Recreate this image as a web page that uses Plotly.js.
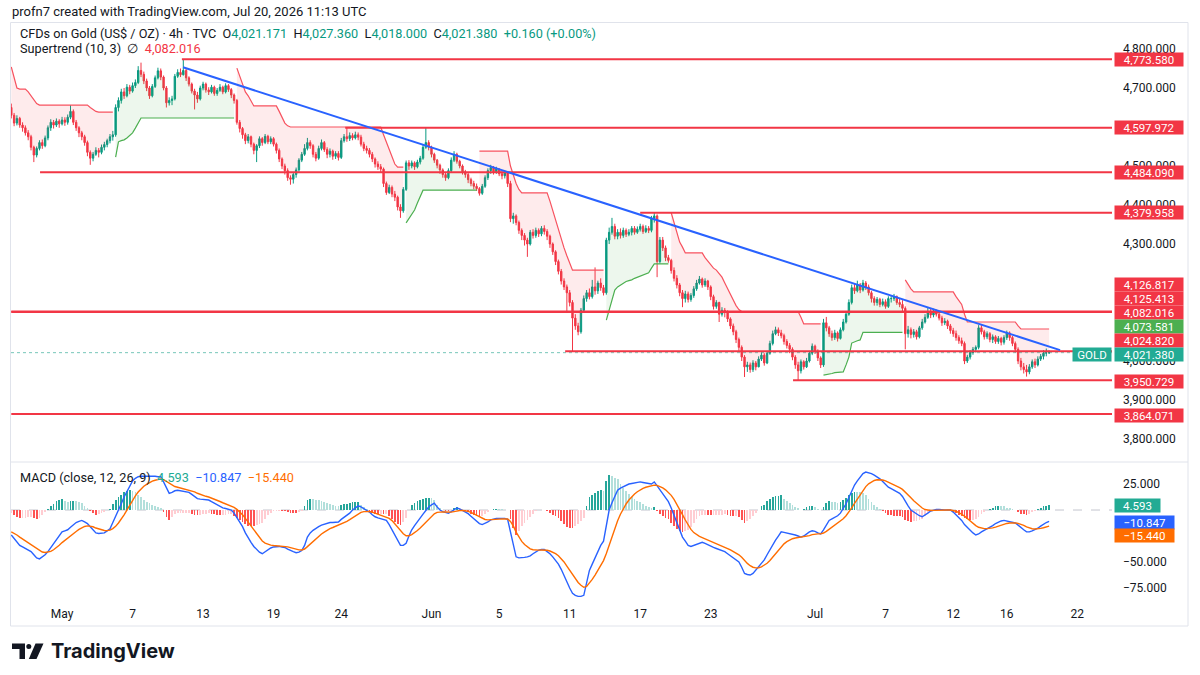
<!DOCTYPE html>
<html>
<head>
<meta charset="utf-8">
<script src="https://cdn.plot.ly/plotly-3.0.1.min.js"></script>
<style>
  html, body { margin: 0; padding: 0; background: #ffffff; }
  #chart { width: 1200px; height: 675px; }
</style>
</head>
<body>
<div id="chart"></div>
<script>
// ---------- 4h bars of TVC:GOLD, Apr 28 – Jul 20, 2026 (index = bar number) ----------
const dayTicks  = [18, 43, 68, 93, 117, 149, 173, 198, 223, 248, 285, 310, 334, 353, 378];
const dayLabels = ['May', '7', '13', '19', '24', 'Jun', '5', '11', '17', '23', 'Jul', '7', '12', '16', '22'];

const firstOpen = 4650;
const lastChange = 0.160;

const close = [
  4630,4610,4622,4605,4598,4585,4575,4548,4528,4545,
  4560,4552,4572,4598,4612,4605,4615,4608,4618,4612,
  4625,4640,4612,4598,4585,4575,4560,4535,4520,4530,
  4540,4535,4548,4555,4565,4575,4580,4650,4668,4690,
  4680,4702,4692,4706,4714,4745,4735,4718,4700,4680,
  4704,4726,4744,4728,4700,4662,4668,4672,4730,4740,
  4734,4745,4726,4710,4692,4682,4672,4700,4710,4695,
  4690,4702,4686,4694,4702,4690,4706,4696,4682,4668,
  4612,4596,4580,4565,4575,4556,4540,4552,4570,4560,
  4576,4562,4570,4556,4540,4518,4500,4488,4470,4466,
  4478,4490,4515,4530,4545,4560,4552,4530,4520,4545,
  4560,4542,4530,4538,4525,4532,4522,4565,4575,4570,
  4578,4572,4580,4574,4556,4545,4540,4530,4518,4505,
  4498,4492,4455,4432,4445,4428,4420,4395,4385,4440,
  4508,4500,4508,4498,4510,4520,4548,4560,4548,4530,
  4515,4502,4490,4478,4470,4488,4515,4530,4512,4500,
  4485,4478,4465,4455,4448,4442,4430,4448,4470,4488,
  4496,4485,4492,4480,4475,4482,4455,4365,4372,4355,
  4335,4322,4310,4300,4330,4322,4335,4326,4340,4332,
  4320,4300,4280,4255,4230,4205,4190,4175,4150,4110,
  4090,4075,4130,4160,4175,4165,4190,4180,4200,4188,
  4175,4310,4330,4345,4320,4330,4322,4335,4325,4330,
  4340,4330,4338,4345,4332,4340,4335,4365,4372,4255,
  4310,4290,4265,4258,4232,4212,4195,4175,4160,4172,
  4158,4168,4185,4200,4210,4195,4205,4190,4165,4140,
  4150,4120,4130,4125,4108,4090,4075,4055,4035,4010,
  3985,3990,3978,3995,3985,4005,4015,3995,4020,4045,
  4070,4080,4072,4065,4050,4040,4030,4010,3990,3975,
  3998,3985,4000,4020,4038,4025,4008,3990,4098,4085,
  4070,4060,4072,4058,4080,4100,4120,4150,4188,4180,
  4195,4182,4200,4190,4175,4160,4150,4158,4145,4152,
  4140,4160,4160,4165,4150,4145,4135,4070,4080,4068,
  4075,4062,4085,4100,4112,4125,4118,4128,4120,4110,
  4098,4102,4090,4078,4070,4060,4052,4045,4000,4010,
  4022,4030,4035,4085,4075,4062,4070,4055,4062,4050,
  4058,4048,4060,4072,4060,4045,4030,4000,3985,3978,
  3972,3985,3998,3990,4005,4012,4020,4021.171,4021.38
];

const high = [
  4660,4636,4630,4626,4612,4604,4592,4580,4552,4550,
  4566,4568,4578,4604,4620,4618,4622,4620,4626,4625,
  4632,4656,4645,4618,4602,4590,4580,4565,4540,4536,
  4548,4546,4555,4562,4570,4582,4590,4658,4676,4698,
  4700,4710,4708,4714,4722,4756,4765,4742,4724,4705,
  4710,4732,4752,4750,4732,4705,4676,4680,4736,4748,
  4750,4773.58,4750,4730,4714,4698,4690,4706,4716,4714,
  4702,4708,4706,4700,4710,4706,4712,4710,4700,4686,
  4672,4618,4600,4585,4582,4578,4560,4556,4576,4574,
  4582,4580,4576,4574,4560,4545,4522,4506,4494,4476,
  4484,4496,4520,4536,4556,4572,4566,4556,4536,4552,
  4568,4564,4548,4545,4542,4538,4538,4572,4582,4597.972,
  4586,4584,4588,4586,4580,4562,4552,4546,4536,4522,
  4512,4505,4496,4460,4452,4450,4436,4424,4402,4446,
  4514,4515,4514,4512,4516,4526,4556,4598,4566,4552,
  4534,4518,4506,4494,4482,4494,4522,4538,4534,4516,
  4504,4490,4482,4470,4462,4455,4446,4454,4476,4494,
  4503,4500,4498,4494,4486,4488,4486,4462,4380,4376,
  4360,4340,4328,4316,4336,4338,4342,4340,4346,4348,
  4338,4324,4304,4284,4260,4236,4212,4196,4182,4156,
  4120,4098,4136,4168,4182,4186,4208,4240,4206,4212,
  4195,4316,4342,4367,4352,4338,4340,4342,4340,4338,
  4346,4346,4345,4352,4350,4348,4346,4372,4379.958,4376,
  4318,4318,4296,4272,4262,4240,4220,4200,4182,4180,
  4178,4174,4192,4208,4218,4214,4212,4208,4194,4170,
  4156,4152,4138,4136,4130,4112,4096,4080,4060,4040,
  4015,3998,3996,4002,4000,4012,4022,4020,4026,4052,
  4078,4088,4086,4080,4070,4056,4046,4035,4015,3998,
  4004,4002,4008,4026,4045,4042,4030,4012,4108,4113,
  4090,4078,4080,4076,4086,4108,4128,4158,4196,4200,
  4206,4200,4208,4205,4196,4180,4166,4164,4162,4160,
  4158,4166,4168,4172,4168,4160,4156,4140,4090,4086,
  4082,4080,4090,4108,4120,4138,4136,4134,4132,4126,
  4116,4110,4106,4095,4085,4078,4066,4060,4050,4016,
  4028,4036,4040,4092,4094,4080,4076,4074,4068,4066,
  4064,4062,4066,4078,4076,4064,4050,4035,4008,3995,
  3990,3992,4004,4006,4012,4018,4028,4032,4027.36
];

const low = [
  4622,4602,4604,4598,4588,4578,4566,4540,4510,4522,
  4540,4544,4548,4566,4590,4596,4600,4598,4604,4603,
  4606,4620,4605,4590,4574,4566,4552,4525,4503,4512,
  4526,4522,4530,4540,4548,4558,4565,4575,4640,4660,
  4672,4676,4684,4688,4700,4710,4728,4710,4692,4672,
  4676,4700,4722,4720,4694,4650,4655,4656,4668,4726,
  4728,4732,4718,4704,4686,4645,4662,4668,4694,4688,
  4682,4686,4680,4680,4690,4684,4686,4690,4674,4660,
  4606,4586,4570,4556,4558,4548,4530,4510,4546,4552,
  4556,4556,4556,4550,4532,4510,4492,4478,4462,4452,
  4455,4470,4485,4510,4526,4540,4544,4522,4512,4516,
  4540,4536,4520,4522,4516,4518,4514,4518,4560,4562,
  4564,4566,4568,4566,4550,4538,4532,4522,4510,4496,
  4490,4484,4446,4426,4428,4420,4410,4386,4367,4380,
  4436,4490,4494,4490,4494,4504,4516,4544,4540,4522,
  4508,4494,4480,4470,4462,4466,4484,4510,4506,4494,
  4478,4470,4456,4448,4440,4436,4424,4426,4444,4464,
  4480,4478,4480,4474,4466,4468,4446,4356,4352,4348,
  4326,4310,4296,4267,4296,4314,4316,4318,4320,4324,
  4310,4290,4272,4246,4222,4196,4182,4123,4140,4024.82,
  4080,4066,4070,4124,4152,4158,4160,4170,4172,4180,
  4168,4170,4300,4324,4312,4312,4314,4316,4318,4320,
  4322,4324,4326,4332,4326,4328,4328,4330,4355,4215,
  4250,4282,4256,4252,4224,4204,4186,4166,4138,4150,
  4150,4152,4162,4180,4196,4188,4190,4182,4156,4132,
  4134,4100,4114,4112,4100,4082,4066,4046,4026,4000,
  3959,3972,3970,3972,3976,3984,4000,3988,3992,4016,
  4040,4066,4064,4058,4042,4032,4020,4002,3980,3950.729,
  3968,3978,3982,3996,4015,4018,4000,3982,3985,4076,
  4062,4052,4054,4050,4055,4076,4096,4116,4145,4172,
  4176,4174,4178,4182,4168,4150,4142,4142,4138,4140,
  4134,4136,4150,4154,4144,4138,4128,4030,4060,4058,
  4060,4055,4058,4080,4096,4108,4110,4112,4114,4104,
  4090,4092,4082,4070,4062,4052,4044,4038,3992,3995,
  4004,4016,4022,4030,4068,4055,4056,4048,4046,4044,
  4044,4040,4042,4054,4052,4038,4022,3992,3976,3968,
  3960,3966,3980,3982,3986,4000,4004,4012,4018
];

// Supertrend (10, 3) per bar
const supertrend = [
  4754,4725,4700,4697,4697,4697,4690,4680,4670,4660,
  4656,4656,4656,4656,4656,4656,4656,4656,4656,4656,
  4656,4656,4656,4656,4656,4656,4656,4656,4650,4645,
  4640,4638,4638,4638,4638,4638,4638,4523,4562,4565,
  4567,4572,4578,4585,4597,4610,4623,4623,4623,4623,
  4623,4623,4623,4623,4623,4623,4623,4623,4623,4623,
  4623,4623,4623,4623,4623,4623,4623,4623,4623,4623,
  4623,4623,4623,4623,4623,4623,4623,4623,4623,4623,
  4751,4730,4710,4690,4680,4665,4654,4654,4654,4654,
  4654,4654,4654,4654,4654,4640,4625,4610,4603,4600,
  4600,4600,4600,4600,4600,4600,4600,4600,4600,4600,
  4600,4600,4600,4600,4600,4600,4600,4600,4600,4600,
  4600,4600,4600,4600,4600,4600,4600,4600,4600,4600,
  4600,4600,4580,4560,4540,4520,4505,4497,4497,4497,
  4354,4365,4375,4387,4405,4420,4438,4438,4438,4438,
  4438,4438,4438,4438,4438,4438,4438,4438,4438,4438,
  4438,4438,4438,4438,4438,4438,4538,4538,4538,4538,
  4538,4538,4538,4538,4538,4538,4538,4500,4475,4455,
  4440,4431,4431,4431,4431,4431,4431,4431,4431,4431,
  4431,4410,4385,4360,4335,4310,4290,4270,4250,4233,
  4233,4233,4233,4233,4233,4233,4233,4233,4233,4233,
  4233,4105,4130,4160,4182,4190,4195,4200,4204,4206,
  4208,4212,4215,4218,4221,4224,4226,4238,4249,4249,
  4249,4249,4249,4249,4380,4355,4330,4305,4292,4277,
  4277,4277,4277,4277,4277,4277,4265,4255,4245,4238,
  4233,4225,4215,4200,4185,4170,4155,4142,4132,4126.817,
  4126.817,4126.817,4126.817,4126.817,4126.817,4126.817,4126.817,4126.817,4126.817,4126.817,
  4126.817,4126.817,4126.817,4126.817,4126.817,4126.817,4126.817,4126.817,4126.817,4126.817,
  4112,4095,4095,4095,4095,4095,4095,4095,3964,3965,
  3966,3968,3970,3971,3972,3972,3990,4010,4046,4050,
  4052,4054,4073.581,4073.581,4073.581,4073.581,4073.581,4073.581,4073.581,4073.581,
  4073.581,4073.581,4073.581,4073.581,4073.581,4073.581,4073.581,4208,4195,4185,
  4177,4177,4177,4177,4177,4177,4177,4177,4177,4177,
  4177,4177,4177,4177,4177,4165,4155,4145,4120,4100,
  4100,4100,4100,4100,4100,4100,4100,4100,4100,4100,
  4100,4100,4100,4100,4100,4100,4100,4090,4082.016,4082.016,
  4082.016,4082.016,4082.016,4082.016,4082.016,4082.016,4082.016,4082.016,4082.016
];

// MACD (close, 12, 26, 9): MACD line and signal line per bar
const macdLine = [
  -24,-27.5,-31,-34,-35.5,-37,-38.5,-40,-43,-46,
  -47,-45,-43,-40,-36,-32,-28,-24.5,-21,-20,
  -19,-16.5,-14,-12,-11,-10,-11.5,-13,-16,-19,
  -22,-22.5,-22.5,-22,-20,-18,-12,-6.5,0,6,
  12.5,18,24,28,30.5,32,32.5,32.5,32.5,33,
  33,32.5,32,32,27,21,16,17,18.5,19,
  18.5,18,17.5,17,15,13,11,10.5,10,9.8,
  9.6,8,6.5,5,3,2,1.5,1,0,-3,
  -7,-11,-16,-22,-27,-31,-35,-38,-40.5,-42,
  -40,-38,-36.5,-35.5,-35,-35,-35.5,-36,-37.5,-39,
  -40,-41,-40.5,-39,-34,-26,-22,-19.5,-17.5,-16,
  -14.5,-13.5,-12.5,-12,-12,-11.5,-11.5,-9,-7,-5,
  -3,0,2,4,3,1.5,0,-2,-4.5,-6.5,
  -7.5,-8.5,-9.5,-10,-14,-19,-25,-30,-34,-34,
  -32,-25,-19,-15,-11,-8,-4,-0.5,3,5,
  6.5,3,0,-1.5,-2.5,-3,-1.5,0.5,2,1,
  -0.5,-2,-3.5,-6,-8.5,-11,-13,-14,-13,-11.5,
  -9.5,-8.5,-8,-8,-8,-8,-9,-20,-33,-45,
  -46,-46,-45.5,-45,-44,-42,-40,-38.5,-38,-38,
  -40,-42,-45,-48,-52,-57,-63,-70,-75,-80,
  -82,-83,-83,-82,-70,-58,-52,-46,-40,-34,
  -30,-14,0,7,13,19,21,22.5,24,25,
  25.5,26,26.5,27,26.5,26,25.5,25,27,23,
  19,15,12,8,2,-5,-12,-19,-26,-30,
  -34,-35,-34,-32.5,-31.5,-31,-32,-33.5,-35,-36,
  -37,-38,-39,-40,-42,-44,-46,-47.5,-50,-55,
  -61,-62,-62.5,-61,-58,-55,-51,-48,-43,-38,
  -33,-29,-25,-21,-21.5,-22,-22.5,-23,-24,-25,
  -26,-25,-23,-21,-20,-20.5,-22,-23,-19,-14,
  -10,-8.5,-7,-5.5,-3,1,6,12,18,24,
  28,32,35,36.5,36,35,33.5,32,30,27.5,
  25,22,20.5,19,17.5,16,13,8,4,0,
  -2,-4,-5.5,-6.5,-5,-3,-1,0,0.5,0.5,
  0,0,0,0,-2,-4.5,-7,-10,-14,-17,
  -20,-22,-24,-23,-21,-19.5,-18,-17,-15,-13,
  -11.5,-10.5,-10,-10.5,-11,-11.5,-12.5,-14.5,-17,-19,
  -21,-21,-20,-19,-17.5,-15.5,-13.5,-12,-10.847
];

const signalLine = [
  -21,-22.3,-24,-26,-27.9,-29.7,-31.5,-33.2,-35.2,-37.3,
  -39.2,-40.4,-40.9,-40.7,-39.8,-38.2,-36.2,-33.9,-31.3,-29,
  -27,-24.9,-22.7,-20.6,-18.7,-16.9,-15.8,-15.3,-15.4,-16.1,
  -17.3,-18.3,-19.2,-19.7,-19.8,-19.4,-17.9,-15.7,-12.5,-8.8,
  -4.6,-0.1,4.7,9.4,13.6,17.3,20.3,22.8,24.7,26.4,
  27.7,28.6,29.3,29.9,29.3,27.6,25.3,23.6,22.6,21.9,
  21.2,20.6,20,19.4,18.5,17.4,16.1,15,14,13.2,
  12.5,11.6,10.6,9.5,8.2,7,5.9,4.9,3.9,2.5,
  0.6,-1.7,-4.6,-8.1,-11.9,-15.7,-19.6,-23.3,-26.7,-29.8,
  -31.8,-33,-33.7,-34.1,-34.3,-34.4,-34.6,-34.9,-35.4,-36.1,
  -36.9,-37.7,-38.3,-38.4,-37.5,-35.2,-32.6,-30,-27.5,-25.2,
  -23.1,-21.2,-19.4,-17.9,-16.8,-15.7,-14.9,-13.7,-12.4,-10.9,
  -9.3,-7.4,-5.5,-3.6,-2.3,-1.5,-1.2,-1.4,-2,-2.9,
  -3.8,-4.8,-5.7,-6.6,-8.1,-10.2,-13.2,-16.5,-20,-22.8,
  -24.7,-24.7,-23.6,-21.9,-19.7,-17.3,-14.7,-11.8,-8.9,-6.1,
  -3.6,-2.3,-1.9,-1.8,-1.9,-2.2,-2,-1.5,-0.8,-0.4,
  -0.4,-0.7,-1.3,-2.2,-3.5,-5,-6.6,-8.1,-9.1,-9.5,
  -9.5,-9.3,-9.1,-8.8,-8.7,-8.5,-8.6,-10.9,-15.3,-21.2,
  -26.2,-30.2,-33.2,-35.6,-37.3,-38.2,-38.6,-38.6,-38.5,-38.4,
  -38.7,-39.4,-40.5,-42,-44,-46.6,-49.9,-53.9,-58.1,-62.5,
  -66.4,-69.7,-72.4,-74.3,-73.4,-70.3,-66.7,-62.5,-58,-53.2,
  -48.6,-41.7,-33.3,-25.3,-17.7,-10.4,-4.1,1.2,5.8,9.6,
  12.8,15.4,17.6,19.5,20.9,21.9,22.6,23.1,23.9,23.7,
  22.8,21.2,19.4,17.1,14.1,10.3,5.8,0.8,-4.5,-9.6,
  -14.5,-18.6,-21.7,-23.9,-25.4,-26.5,-27.6,-28.8,-30,-31.2,
  -32.4,-33.5,-34.6,-35.7,-37,-38.4,-39.9,-41.4,-43.1,-45.5,
  -48.6,-51.3,-53.5,-55,-55.6,-55.5,-54.6,-53.3,-51.2,-48.6,
  -45.5,-42.2,-38.8,-35.2,-32.5,-30.4,-28.8,-27.6,-26.9,-26.5,
  -26.4,-26.1,-25.5,-24.6,-23.7,-23.1,-22.9,-22.9,-22.1,-20.5,
  -18.4,-16.4,-14.5,-12.7,-10.8,-8.4,-5.5,-2,2,6.4,
  10.7,15,19,22.5,25.2,27.2,28.4,29.1,29.3,28.9,
  28.1,26.9,25.6,24.3,22.9,21.5,19.8,17.4,14.8,11.8,
  9,6.4,4,1.9,0.5,-0.2,-0.4,-0.3,-0.1,0,
  0,0,0,0,-0.4,-1.2,-2.4,-3.9,-5.9,-8.1,
  -10.5,-12.8,-15,-16.6,-17.5,-17.9,-17.9,-17.7,-17.2,-16.4,
  -15.4,-14.4,-13.5,-12.9,-12.5,-12.3,-12.4,-12.8,-13.6,-14.7,
  -16.3,-17.3,-18,-18.3,-18.2,-17.7,-17,-16.2,-15.44
];

// Drawn levels: price and the bar where each horizontal line begins
const levelPrices = [4773.58, 4597.972, 4484.09, 4379.958, 4126.817, 4125.413, 4024.82, 3950.729, 3864.071];
const levelStart  = [60.5, 118.4, 10.2, 223, 0, 0, 196.4, 277.2, 0];

// Falling trendline anchors (bar, price)
const trendX = [60.9, 371.9];
const trendY = [4753, 4028];

const lastPrice = 4021.38;
// scale labels left uncovered by the value tags
const priceTicks = [3800, 3900, 4000, 4300, 4400, 4500, 4700, 4800];
const macdTicks = [25, -50, -75];

// ---------- page geometry ----------
const W = 1200, H = 675, ML = 11, MR = 88, MT = 22, MB = 75;
const PW = W - ML - MR, PH = H - MT - MB;
const px = x => (x - ML) / PW;          // pixel -> paper x
const py = y => (H - MB - y) / PH;      // pixel -> paper y
const xRange = [-0.1, 390.3];

const UP = '#089981', DOWN = '#F23645';
const fmt = (v, d) => (v < 0 ? '\u2212' : '') +
  Math.abs(v).toLocaleString('en-US', { minimumFractionDigits: d, maximumFractionDigits: d });

// ---------- derived series ----------
const n = close.length;
const idx = close.map((_, i) => i);
const open = [firstOpen].concat(close.slice(0, n - 1));
const bodyMid = idx.map(i => (open[i] + close[i]) / 2);
const trendDir = idx.map(i => (close[i] > supertrend[i] ? 1 : -1));

const segments = [];
let segStart = 0;
for (let i = 1; i <= n; i++) {
  if (i === n || trendDir[i] !== trendDir[segStart]) {
    segments.push([segStart, i - 1, trendDir[segStart]]);
    segStart = i;
  }
}

const hist = macdLine.map((m, i) => m - signalLine[i]);
const histColor = hist.map((h, i) => {
  const prev = i ? hist[i - 1] : h;
  if (h >= 0) return h > prev ? '#26A69A' : '#B2DFDB';
  return h < prev ? '#FF5252' : '#FFCDD2';
});

// ---------- traces ----------
const traces = [];

// Supertrend shading between the band and the candle bodies
segments.forEach(([s, e, d]) => {
  const xs = [], ys = [];
  for (let i = s; i <= e; i++) { xs.push(i); ys.push(supertrend[i]); }
  for (let i = e; i >= s; i--) { xs.push(i); ys.push(bodyMid[i]); }
  traces.push({
    type: 'scatter', mode: 'lines', x: xs, y: ys, fill: 'toself',
    fillcolor: d > 0 ? 'rgba(76,175,80,0.10)' : 'rgba(242,54,69,0.10)',
    line: { width: 0 }, hoverinfo: 'skip', xaxis: 'x', yaxis: 'y'
  });
});

// Supertrend band line
segments.forEach(([s, e, d]) => {
  traces.push({
    type: 'scatter', mode: 'lines',
    x: idx.slice(s, e + 1), y: supertrend.slice(s, e + 1),
    line: { color: d > 0 ? '#4CAF50' : '#F7525F', width: 1.2 },
    hoverinfo: 'skip', xaxis: 'x', yaxis: 'y'
  });
});

// Candles
traces.push({
  type: 'candlestick', x: idx, open: open, high: high, low: low, close: close,
  increasing: { line: { color: UP, width: 1 }, fillcolor: UP },
  decreasing: { line: { color: DOWN, width: 1 }, fillcolor: DOWN },
  whiskerwidth: 0, hoverinfo: 'skip', xaxis: 'x', yaxis: 'y'
});

// MACD histogram and lines
traces.push({
  type: 'bar', x: idx, y: hist, marker: { color: histColor, line: { width: 0 } },
  width: 0.62, hoverinfo: 'skip', xaxis: 'x', yaxis: 'y2'
});
traces.push({
  type: 'scatter', mode: 'lines', x: idx, y: macdLine,
  line: { color: '#2962FF', width: 1.4 }, hoverinfo: 'skip', xaxis: 'x', yaxis: 'y2'
});
traces.push({
  type: 'scatter', mode: 'lines', x: idx, y: signalLine,
  line: { color: '#FF6D00', width: 1.4 }, hoverinfo: 'skip', xaxis: 'x', yaxis: 'y2'
});

// ---------- shapes ----------
const shapes = [];

// chart frame and pane divider
shapes.push({ type: 'rect', xref: 'paper', yref: 'paper', x0: px(10.5), x1: px(1188), y0: py(626), y1: py(22.5),
  line: { color: '#E0E3EB', width: 1 }, layer: 'below' });
shapes.push({ type: 'line', xref: 'paper', yref: 'paper', x0: px(10.5), x1: px(1188), y0: py(462), y1: py(462),
  line: { color: '#E0E3EB', width: 1 }, layer: 'below' });

// MACD zero line
shapes.push({ type: 'line', xref: 'paper', yref: 'y2', x0: 0, x1: 1, y0: 0, y1: 0,
  line: { color: '#C3C6CE', width: 1, dash: 'dash' }, layer: 'below' });

// last price line
shapes.push({ type: 'line', xref: 'x', yref: 'y', x0: xRange[0], x1: xRange[1], y0: lastPrice, y1: lastPrice,
  line: { color: 'rgba(8,153,129,0.55)', width: 1, dash: 'dot' }, layer: 'above' });

// horizontal levels
levelPrices.forEach((p, k) => {
  shapes.push({ type: 'line', xref: 'x', yref: 'y', x0: levelStart[k], x1: xRange[1], y0: p, y1: p,
    line: { color: '#F23645', width: 2 }, layer: 'above' });
});

// trendline
shapes.push({ type: 'line', xref: 'x', yref: 'y', x0: trendX[0], x1: trendX[1], y0: trendY[0], y1: trendY[1],
  line: { color: '#2962FF', width: 2 }, layer: 'above' });

// TradingView mark
shapes.push({ type: 'path', xref: 'paper', yref: 'paper', fillcolor: '#131722', line: { width: 0 },
  path: `M${px(12)},${py(643.5)} L${px(25)},${py(643.5)} L${px(25)},${py(659)} L${px(19.5)},${py(659)} L${px(19.5)},${py(649)} L${px(12)},${py(649)} Z` });
shapes.push({ type: 'circle', xref: 'paper', yref: 'paper', fillcolor: '#131722', line: { width: 0 },
  x0: px(26.3), x1: px(31.3), y0: py(649), y1: py(644) });
shapes.push({ type: 'path', xref: 'paper', yref: 'paper', fillcolor: '#131722', line: { width: 0 },
  path: `M${px(35.5)},${py(643.5)} L${px(43.5)},${py(643.5)} L${px(36.5)},${py(659)} L${px(28.8)},${py(659)} Z` });

// ---------- annotations ----------
const ann = [];
const txt = (x, y, text, size, extra) => Object.assign({
  xref: 'paper', yref: 'paper', x: px(x), y: py(y), xanchor: 'left', yanchor: 'middle',
  text: text, showarrow: false, font: { size: size, color: '#131722' }
}, extra || {});

ann.push(txt(10, 12, 'profn7 created with TradingView.com, Jul 20, 2026 11:13 UTC', 13));

const g = s => `<span style="color:${UP}">${s}</span>`;
ann.push(txt(18, 34,
  'CFDs on Gold (US$ / OZ) · 4h · TVC&nbsp;&nbsp;' +
  'O' + g(fmt(open[n - 1], 3)) + '&nbsp;&nbsp;H' + g(fmt(high[n - 1], 3)) +
  '&nbsp;&nbsp;L' + g(fmt(low[n - 1], 3)) + '&nbsp;&nbsp;C' + g(fmt(close[n - 1], 3)) +
  '&nbsp;&nbsp;' + g('+' + fmt(lastChange, 3) + ' (+0.00%)'), 12.7));
ann.push(txt(18, 48, 'Supertrend (10, 3)&nbsp;&nbsp;∅&nbsp;&nbsp;<span style="color:#F23645">' +
  fmt(supertrend[n - 1], 3) + '</span>', 12.7));
ann.push(txt(18, 477, 'MACD (close, 12, 26, 9)&nbsp;&nbsp;' +
  `<span style="color:#22AB94">${fmt(hist[n - 1], 3)}</span>&nbsp;&nbsp;` +
  `<span style="color:#2962FF">${fmt(macdLine[n - 1], 3)}</span>&nbsp;&nbsp;` +
  `<span style="color:#FF6D00">${fmt(signalLine[n - 1], 3)}</span>`, 12.7));

ann.push(txt(49, 651, '<b>TradingView</b>', 20, { font: { size: 20, color: '#131722', family: 'Inter, Roboto, sans-serif' } }));

// price-scale value tags
const tag = (val, yref, text, bg, shift, width) => ({
  xref: 'paper', x: 1, xanchor: 'left', xshift: 2, yref: yref, y: val, yshift: shift, yanchor: 'middle',
  text: text, showarrow: false, bgcolor: bg, borderpad: 1, width: width, height: 11,
  align: 'center', font: { color: '#ffffff', size: 11.5 }
});
const levelShift = [0, 0, 0, 0, 27, 13.5, 0, -1, -1];
levelPrices.forEach((p, k) => {
  if (k === 6) return;
  ann.push(tag(p, 'y', fmt(p, 3), '#F23645', levelShift[k], 66));
});
// stacked tags around the last price
ann.push(tag(supertrend[n - 1], 'y', fmt(supertrend[n - 1], 3), '#F23645', 16.5, 66));
ann.push(tag(supertrend[316], 'y', fmt(supertrend[316], 3), '#4CAF50', 6, 66));
ann.push(tag(levelPrices[6], 'y', fmt(levelPrices[6], 3), '#F23645', 11, 66));
ann.push(tag(lastPrice, 'y', fmt(lastPrice, 3), '#22AB94', -1.5, 66));
ann.push({ xref: 'paper', x: 1, xanchor: 'right', xshift: 0, yref: 'y', y: lastPrice, yshift: -1.5, yanchor: 'middle',
  text: 'GOLD', showarrow: false, bgcolor: '#22AB94', borderpad: 1, width: 36, height: 11,
  font: { color: '#ffffff', size: 11.5 } });

ann.push(tag(hist[n - 1], 'y2', fmt(hist[n - 1], 3), '#22AB94', 0, 43));
ann.push(tag(macdLine[n - 1], 'y2', fmt(macdLine[n - 1], 3), '#2962FF', -1, 57));
ann.push(tag(signalLine[n - 1], 'y2', fmt(signalLine[n - 1], 3), '#FF6D00', -9, 57));

// ---------- layout ----------
const layout = {
  width: W, height: H,
  margin: { l: ML, r: MR, t: MT, b: MB, pad: 0 },
  paper_bgcolor: '#ffffff', plot_bgcolor: '#ffffff',
  showlegend: false, dragmode: false, bargap: 0,
  font: { family: 'Roboto, "Noto Sans", sans-serif', color: '#131722', size: 12 },
  xaxis: {
    range: xRange, anchor: 'y2', showgrid: false, zeroline: false, showline: false,
    tickmode: 'array', tickvals: dayTicks, ticktext: dayLabels, ticks: '',
    ticklabelstandoff: 5, tickfont: { size: 12, color: '#131722' },
    rangeslider: { visible: false }, fixedrange: true
  },
  yaxis: {
    domain: [py(461), 1], range: [3743.6, 4869.2], side: 'right', anchor: 'x',
    showgrid: false, zeroline: false, showline: false, ticks: '',
    tickmode: 'array', tickvals: priceTicks, ticktext: priceTicks.map(v => fmt(v, 3)),
    ticklabelstandoff: 10, tickfont: { size: 12, color: '#131722' }, fixedrange: true
  },
  yaxis2: {
    domain: [0, py(463)], range: [-86.5, 45.2], side: 'right', anchor: 'x',
    showgrid: false, zeroline: false, showline: false, ticks: '',
    tickmode: 'array', tickvals: macdTicks, ticktext: macdTicks.map(v => fmt(v, 3)),
    ticklabelstandoff: 10, tickfont: { size: 12, color: '#131722' }, fixedrange: true
  },
  shapes: shapes,
  annotations: ann
};

Plotly.newPlot('chart', traces, layout, { staticPlot: true, displayModeBar: false });
</script>
</body>
</html>
